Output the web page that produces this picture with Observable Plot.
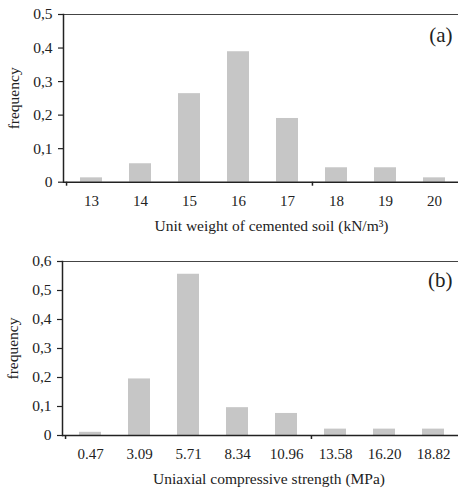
<!DOCTYPE html>
<html><head><meta charset="utf-8">
<script src="https://cdn.jsdelivr.net/npm/d3@7"></script>
<script src="https://cdn.jsdelivr.net/npm/@observablehq/plot@0.6"></script>
<style>
html,body{margin:0;padding:0;background:#fff;overflow:hidden}
#a,#b{width:458px}
svg{display:block}
</style>
</head><body><div id="a"></div><div id="b"></div>
<script>
// Panel (a): unit weight of cemented soil
const weightCategories = ["13", "14", "15", "16", "17", "18", "19", "20"];
const weightFrequency = [0.013, 0.055, 0.264, 0.389, 0.19, 0.043, 0.043, 0.013];
const weightTicks = [0, 0.1, 0.2, 0.3, 0.4, 0.5];
// Panel (b): uniaxial compressive strength
const ucsCategories = ["0.47", "3.09", "5.71", "8.34", "10.96", "13.58", "16.20", "18.82"];
const ucsFrequency = [0.011, 0.195, 0.556, 0.096, 0.076, 0.022, 0.022, 0.022];
const ucsTicks = [0, 0.1, 0.2, 0.3, 0.4, 0.5, 0.6];

const FONT = "'Liberation Serif', 'Times New Roman', serif";
const INK = "#222";
const fmt = d => d === 0 ? "0" : d.toFixed(1).replace(".", ",");

function panel(o) {
  const data = o.cats.map((c, i) => ({cat: c, f: o.freqs[i]}));
  const yMax = o.ticks[o.ticks.length - 1];
  return Plot.plot({
    width: 458,
    height: o.height,
    marginTop: o.marginTop,
    marginBottom: o.marginBottom,
    marginLeft: o.marginLeft,
    marginRight: 0,
    style: {fontFamily: FONT, fontSize: "15px", color: INK, background: "#fff"},
    x: {domain: o.cats, range: [o.marginLeft, o.marginLeft + 399.2], paddingInner: 0.56, paddingOuter: 0.28, label: null},
    y: {domain: [0, yMax], label: null},
    marks: [
      Plot.barY(data, {x: "cat", y: "f", fill: "#c6c6c6"}),
      Plot.ruleY([yMax], {stroke: "#444", strokeWidth: 1.2}),
      Plot.ruleY([0], {stroke: INK, strokeWidth: 1.5}),
      Plot.frame({anchor: "left", stroke: INK, strokeWidth: 1.5}),
      Plot.axisX([o.cats[0]], {tickSize: 4, dx: -24.95, tickFormat: () => "", stroke: INK, strokeWidth: 1.5, label: null}),
      Plot.axisX([o.cats[4]], {tickSize: 4, dx: 24.95, tickFormat: () => "", stroke: INK, strokeWidth: 1.5, label: null}),
      Plot.axisX({tickSize: 0, tickPadding: 13, fontSize: 15, label: null}),
      Plot.axisY({ticks: o.ticks, tickFormat: fmt, tickSize: 5, tickPadding: 6, stroke: INK, strokeWidth: 1.2, fontSize: 15.5, label: null}),
      Plot.text([o.xLabel], {frameAnchor: "bottom", textAnchor: "middle", lineAnchor: "bottom", dx: o.labelDx, dy: o.labelDy, fontSize: 15.5, fill: INK}),
      Plot.text(["frequency"], {frameAnchor: "left", textAnchor: "middle", lineAnchor: "middle", rotate: -90, dx: -49.5, fontSize: 15.5, fill: INK}),
      Plot.text([o.tag], {frameAnchor: "top-right", textAnchor: "end", lineAnchor: "bottom", dx: -6, dy: o.tagDy, fontSize: 21, fill: INK})
    ]
  });
}

document.getElementById("a").append(panel({
  cats: weightCategories, freqs: weightFrequency, ticks: weightTicks,
  xLabel: "Unit weight of cemented soil (kN/m³)", tag: "(a)",
  height: 240, marginTop: 14, marginBottom: 58.3, marginLeft: 63,
  labelDx: 10.5, labelDy: 48.5, tagDy: 27.5
}));
document.getElementById("b").append(panel({
  cats: ucsCategories, freqs: ucsFrequency, ticks: ucsTicks,
  xLabel: "Uniaxial compressive strength (MPa)", tag: "(b)",
  height: 248, marginTop: 21, marginBottom: 53, marginLeft: 62,
  labelDx: 8.5, labelDy: 48.5, tagDy: 25.7
}));
</script>
</body></html>
